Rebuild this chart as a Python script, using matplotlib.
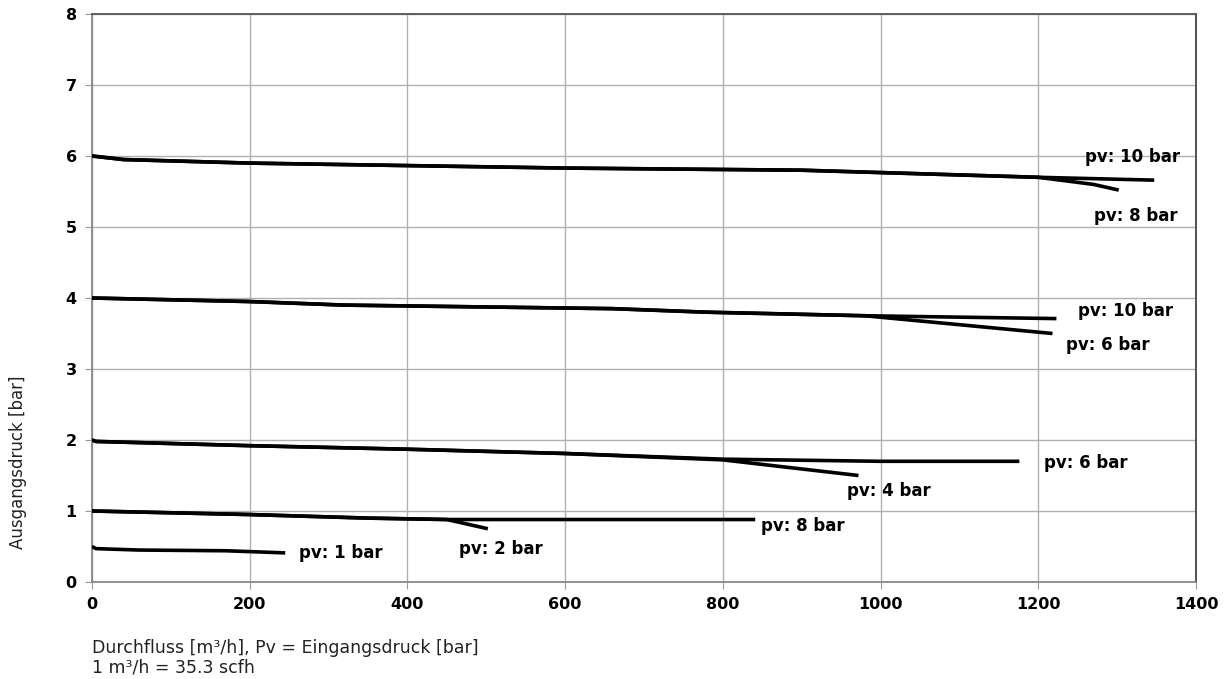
import matplotlib
matplotlib.use("Agg")
import matplotlib.pyplot as plt

plt.rcParams['font.family'] = ['DejaVu Sans']

# Outlet 0.5 bar, pv 1 bar
x_p1 = [0, 5, 60, 170, 245]
y_p1 = [0.50, 0.47, 0.45, 0.44, 0.41]
# Outlet 1 bar, pv 2 bar
x_p2 = [0, 200, 350, 450, 502]
y_p2 = [1.00, 0.95, 0.90, 0.88, 0.75]
# Outlet 1 bar, pv 8 bar
x_p3 = [0, 200, 350, 450, 841]
y_p3 = [1.00, 0.95, 0.90, 0.88, 0.88]
# Outlet 2 bar, pv 4 bar
x_p4 = [0, 5, 200, 400, 600, 800, 972]
y_p4 = [2.00, 1.98, 1.92, 1.87, 1.81, 1.72, 1.50]
# Outlet 2 bar, pv 6 bar
x_p5 = [0, 5, 200, 400, 600, 800, 1000, 1176]
y_p5 = [2.00, 1.98, 1.92, 1.87, 1.81, 1.73, 1.70, 1.70]
# Outlet 4 bar, pv 6 bar
x_p6 = [0, 200, 320, 660, 780, 980, 1218]
y_p6 = [4.00, 3.95, 3.90, 3.85, 3.80, 3.75, 3.50]
# Outlet 4 bar, pv 10 bar
x_p7 = [0, 200, 320, 660, 780, 980, 1223]
y_p7 = [4.00, 3.95, 3.90, 3.85, 3.80, 3.75, 3.71]
# Outlet 6 bar, pv 8 bar
x_p8 = [0, 40, 200, 600, 900, 1200, 1270, 1302]
y_p8 = [6.00, 5.95, 5.90, 5.83, 5.80, 5.70, 5.60, 5.52]
# Outlet 6 bar, pv 10 bar
x_p9 = [0, 40, 200, 600, 900, 1200, 1347]
y_p9 = [6.00, 5.95, 5.90, 5.83, 5.80, 5.70, 5.66]

label_texts = ["pv: 10 bar", "pv: 8 bar", "pv: 10 bar", "pv: 6 bar", "pv: 6 bar",
               "pv: 4 bar", "pv: 8 bar", "pv: 2 bar", "pv: 1 bar"]
label_x = [1320, 1324, 1311, 1288, 1260, 1010, 902, 518, 315]
label_y = [5.98, 5.15, 3.82, 3.34, 1.68, 1.28, 0.79, 0.47, 0.41]

x_ticks = [0, 200, 400, 600, 800, 1000, 1200, 1400]
y_ticks = [0, 1, 2, 3, 4, 5, 6, 7, 8]

fig = plt.figure(figsize=(12.3, 6.79), dpi=100)
ax = fig.add_axes([92/1230, 1 - 582/679, (1196-92)/1230, (582-14)/679])

for xs, ys in [(x_p1, y_p1), (x_p2, y_p2), (x_p3, y_p3), (x_p4, y_p4), (x_p5, y_p5),
               (x_p6, y_p6), (x_p7, y_p7), (x_p8, y_p8), (x_p9, y_p9)]:
    ax.plot(xs, ys, color='black', lw=2.6, solid_capstyle='butt', zorder=3)

for t, lx, ly in zip(label_texts, label_x, label_y):
    ax.text(lx, ly, t, ha='center', va='center', fontsize=12, fontweight='bold', color='black')

ax.set_xlim(0, 1400)
ax.set_ylim(0, 8)
ax.set_xticks(x_ticks)
ax.set_yticks(y_ticks)
ax.set_xticklabels([str(v) for v in x_ticks], fontsize=11.5, fontweight='bold')
ax.set_yticklabels([str(v) for v in y_ticks], fontsize=11.5, fontweight='bold')
ax.grid(True, color='#b0b0b0', lw=1.0)
ax.set_axisbelow(True)
ax.tick_params(axis='both', direction='out', length=5, color='#999999', pad=6)
ax.spines['left'].set_color('#888888')
ax.spines['bottom'].set_color('#888888')
ax.spines['top'].set_color('#555555')
ax.spines['right'].set_color('#444444')
for s in ax.spines.values():
    s.set_linewidth(1.3)

fig.text(18/1230, 1 - 462/679, "Ausgangsdruck [bar]", rotation=90, ha='center', va='center',
         fontsize=12, color='#222222')
fig.text(92/1230, 1 - 648/679, "Durchfluss [m³/h], Pv = Eingangsdruck [bar]", ha='left', va='center',
         fontsize=12.5, color='#222222')
fig.text(92/1230, 1 - 667/679, "1 m³/h = 35.3 scfh", ha='left', va='center',
         fontsize=12.5, color='#222222')

fig.savefig("out.png", dpi=100)
